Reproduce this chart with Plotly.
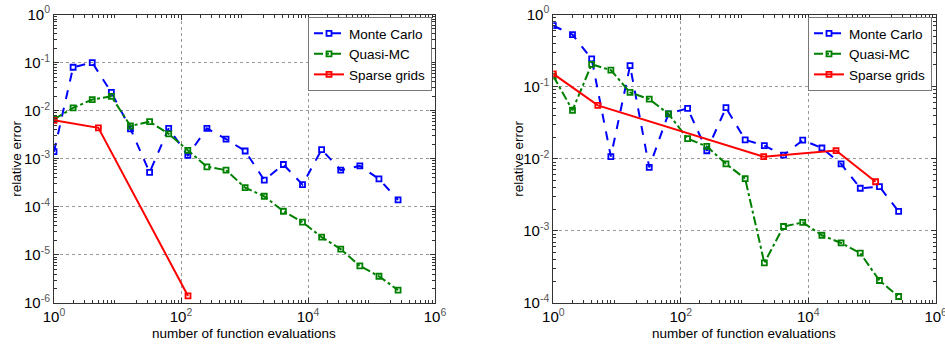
import plotly.graph_objects as go

# ---- data ----
n_mc = [2**k for k in range(19)]  # 1 .. 262144

mc_left = [1.4e-3, 0.080, 0.100, 0.024, 4.2e-3, 5.2e-4, 4.3e-3, 1.17e-3, 4.3e-3, 2.55e-3,
           1.45e-3, 3.6e-4, 7.6e-4, 2.9e-4, 1.55e-3, 5.8e-4, 7.1e-4, 3.8e-4, 1.4e-4]
qmc_left = [6.6e-3, 0.0114, 0.017, 0.0198, 4.8e-3, 5.9e-3, 3.3e-3, 1.5e-3, 6.8e-4, 5.8e-4,
            2.5e-4, 1.66e-4, 8.1e-5, 4.8e-5, 2.35e-5, 1.32e-5, 5.9e-6, 3.6e-6, 1.85e-6]
sg_left_n = [1, 5, 129]
sg_left = [6.3e-3, 4.4e-3, 1.4e-6]

mc_right = [0.70, 0.525, 0.242, 0.0107, 0.195, 7.6e-3, 0.042, 0.050, 0.0129, 0.051,
            0.0183, 0.0152, 0.0112, 0.0181, 0.0141, 8.5e-3, 3.9e-3, 4.1e-3, 1.86e-3]
qmc_right = [0.14, 0.047, 0.204, 0.169, 0.083, 0.067, 0.042, 0.019, 0.0148, 8.5e-3,
             5.3e-3, 3.6e-4, 1.15e-3, 1.31e-3, 8.7e-4, 6.8e-4, 4.9e-4, 2.05e-4, 1.23e-4]
sg_right_n = [1, 5, 2000, 27300, 114000]
sg_right = [0.15, 0.055, 0.0107, 0.013, 4.8e-3]

x_exps = [0, 2, 4, 6]
y_exps_left = [0, -1, -2, -3, -4, -5, -6]
y_exps_right = [0, -1, -2, -3, -4]

names = ["Monte Carlo", "Quasi-MC", "Sparse grids"]
colors = ["#0000ff", "#008000", "#ff0000"]
dashes = ["dash", "dashdot", "solid"]

FONT = "Liberation Sans, Arial, sans-serif"

W, H = 945, 346


def px(x):
    return x / W


def py(y):
    return 1 - y / H


def lab(e):
    return "10<sup><span style='color:#555555'>%d</span></sup>" % e


def minor_vals(lo, hi):
    return [m * 10.0**e for e in range(lo, hi) for m in range(2, 10)]


fig = go.Figure()

series_left = [(n_mc, mc_left), (n_mc, qmc_left), (sg_left_n, sg_left)]
series_right = [(n_mc, mc_right), (n_mc, qmc_right), (sg_right_n, sg_right)]

for i, (xs, ys) in enumerate(series_left):
    fig.add_trace(go.Scatter(
        x=xs, y=ys, name=names[i], mode="lines+markers",
        line=dict(color=colors[i], width=2, dash=dashes[i]),
        marker=dict(symbol="square-open", size=5, color=colors[i], line=dict(width=1.8, color=colors[i])),
        xaxis="x", yaxis="y", legend="legend"))

for i, (xs, ys) in enumerate(series_right):
    fig.add_trace(go.Scatter(
        x=xs, y=ys, name=names[i], mode="lines+markers",
        line=dict(color=colors[i], width=2, dash=dashes[i]),
        marker=dict(symbol="square-open", size=5, color=colors[i], line=dict(width=1.8, color=colors[i])),
        xaxis="x2", yaxis="y2", legend="legend2"))

L1, R1 = px(54), px(435)
L2, R2 = px(553.3), px(935.7)
B, T = py(303), py(14.5)

common_axis = dict(
    type="log", showline=True, linecolor="#333333", linewidth=1, mirror="allticks",
    ticks="inside", ticklen=5, tickcolor="#333333", automargin=False,
    ticklabeloverflow="allow",
    showgrid=True, gridcolor="#999999", griddash="dot", gridwidth=1,
    zeroline=False, tickfont=dict(family=FONT, size=15, color="black"),
)


def minor(lo, hi):
    return dict(ticks="inside", ticklen=3, tickcolor="#333333", showgrid=False,
                tickmode="array", tickvals=minor_vals(lo, hi))


title_font = dict(family=FONT, size=13.5, color="black")
legend_common = dict(xanchor="right", yanchor="top",
                     bgcolor="white", bordercolor="#777777", borderwidth=1,
                     font=dict(family=FONT, size=13.5, color="black"), tracegroupgap=0,
                     itemwidth=30)

fig.update_layout(
    template="none",
    width=W, height=H, margin=dict(l=0, r=0, t=0, b=0, autoexpand=False),
    paper_bgcolor="white", plot_bgcolor="white",
    font=dict(family=FONT, size=13, color="black"),
    xaxis=dict(common_axis, domain=[L1, R1], range=[0, 6], anchor="y", minor=minor(0, 6),
               tickvals=[10**e for e in x_exps], ticktext=[lab(e) for e in x_exps]),
    yaxis=dict(common_axis, domain=[B, T], range=[-6, 0], anchor="x", minor=minor(-6, 0),
               tickvals=[10**e for e in y_exps_left], ticktext=[lab(e) for e in y_exps_left]),
    xaxis2=dict(common_axis, domain=[L2, R2], range=[0, 6], anchor="y2", minor=minor(0, 6),
                tickvals=[10**e for e in x_exps], ticktext=[lab(e) for e in x_exps]),
    yaxis2=dict(common_axis, domain=[B, T], range=[-4, 0], anchor="x2", minor=minor(-4, 0),
                tickvals=[10**e for e in y_exps_right], ticktext=[lab(e) for e in y_exps_right]),
    legend=dict(legend_common, x=px(432), y=py(17)),
    legend2=dict(legend_common, x=px(932), y=py(17)),
    showlegend=True,
    annotations=[
        dict(text="number of function evaluations", xref="paper", yref="paper",
             x=(L1 + R1) / 2, y=py(333), xanchor="center", yanchor="middle",
             showarrow=False, font=title_font),
        dict(text="number of function evaluations", xref="paper", yref="paper",
             x=(L2 + R2) / 2, y=py(333), xanchor="center", yanchor="middle",
             showarrow=False, font=title_font),
        dict(text="relative error", xref="paper", yref="paper", textangle=-90,
             x=px(17), y=(B + T) / 2, xanchor="center", yanchor="middle",
             showarrow=False, font=title_font),
        dict(text="relative error", xref="paper", yref="paper", textangle=-90,
             x=px(519), y=(B + T) / 2, xanchor="center", yanchor="middle",
             showarrow=False, font=title_font),
    ],
)

# remove the browser's default 8px body margin so the figure fills the window exactly
fig.write_html("out.html", config={"displayModeBar": False},
               post_script="document.body.style.margin='0px';")
